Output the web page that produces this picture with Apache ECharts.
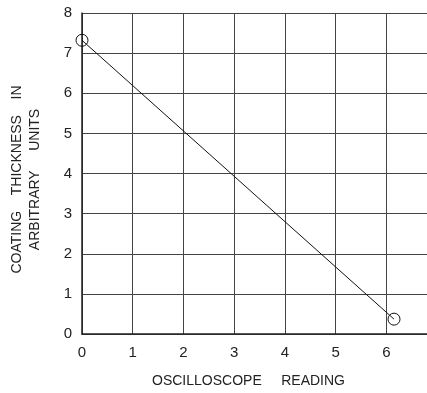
<!DOCTYPE html>
<html><head><meta charset="utf-8">
<script src="https://cdn.jsdelivr.net/npm/echarts@6/dist/echarts.min.js"></script>
<style>html,body{margin:0;padding:0;background:#fff}#c{width:427px;height:393px}</style>
</head><body><div id="c"></div>
<script>
const xValues = [0, 6.15];
const yValues = [7.32, 0.37];
const xTicks = ['0','1','2','3','4','5','6'];
const yTicks = ['0','1','2','3','4','5','6','7','8'];
const xTitle = 'OSCILLOSCOPE     READING';
const yTitle = 'COATING    THICKNESS    IN\nARBITRARY     UNITS';

const chart = echarts.init(document.getElementById('c'));
const font = 'Liberation Sans, Arial, sans-serif';
chart.setOption({
  animation: false,
  grid: {left: 82, right: 0, top: 13, bottom: 56},
  xAxis: {
    type: 'value', min: 0, max: 6.8, interval: 1,
    axisLine: {lineStyle: {color: '#222', width: 1.5}},
    axisTick: {show: false},
    axisLabel: {color: '#222', fontSize: 15, fontFamily: font, margin: 11,
      showMaxLabel: false,
      formatter: v => (Number.isInteger(v) && v <= 6) ? xTicks[v] : ''},
    splitLine: {show: true, showMaxLine: false, lineStyle: {color: '#444', width: 1}},
    name: xTitle, nameLocation: 'middle', nameGap: 40,
    nameTextStyle: {color: '#222', fontSize: 14, fontFamily: font, padding: [0, 12, 0, 0]}
  },
  yAxis: {
    type: 'value', min: 0, max: 8, interval: 1,
    axisLine: {show: true, lineStyle: {color: '#222', width: 1.5}},
    axisTick: {show: false},
    axisLabel: {color: '#222', fontSize: 15, fontFamily: font, margin: 10,
      formatter: v => yTicks[v]},
    splitLine: {show: true, lineStyle: {color: '#444', width: 1}},
    name: yTitle, nameLocation: 'middle', nameGap: 38, nameRotate: 90,
    nameTextStyle: {color: '#222', fontSize: 14, fontFamily: font, lineHeight: 18, padding: [0, 12, 0, 0]}
  },
  series: [{
    type: 'line',
    data: xValues.map((x, i) => [x, yValues[i]]),
    symbol: 'circle', symbolSize: 12,
    lineStyle: {color: '#111', width: 1},
    itemStyle: {color: 'rgba(255,255,255,0)', borderColor: '#111', borderWidth: 1},
    clip: false
  }]
});
</script></body></html>
